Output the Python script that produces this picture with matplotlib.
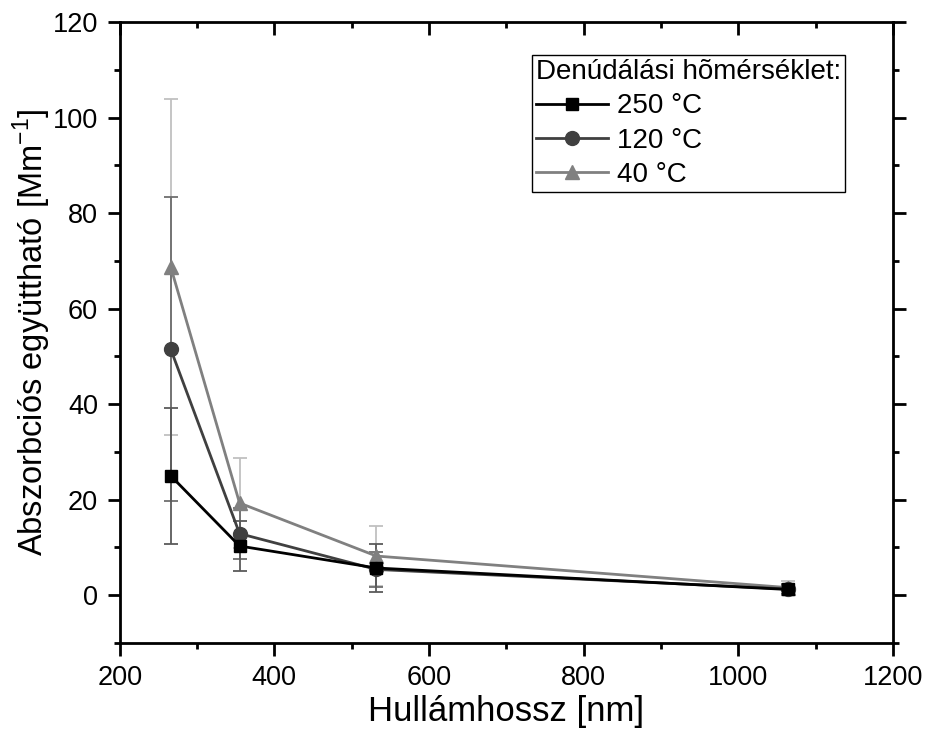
import numpy as np
import matplotlib
matplotlib.use('Agg')
import matplotlib.pyplot as plt
from matplotlib.lines import Line2D

plt.rcParams['font.family'] = ['Liberation Sans', 'DejaVu Sans']
plt.rcParams['mathtext.fontset'] = 'custom'
plt.rcParams['mathtext.rm'] = 'Liberation Sans'

# wavelengths [nm]
wavelength = [266, 355, 532, 1064]

# absorption coefficients [Mm-1] and their errors
abs_250 = [25.0, 10.3, 5.7, 1.2]
err_250 = [14.2, 5.3, 5.1, 0.9]
abs_120 = [51.5, 12.9, 5.4, 1.3]
err_120 = [31.8, 5.3, 3.7, 1.0]
abs_40 = [68.7, 19.3, 8.2, 1.6]
err_40 = [35.1, 9.4, 6.3, 1.3]

labels = ['250 °C', '120 °C', '40 °C']

fig = plt.figure(figsize=(9.28, 7.43), dpi=100)
ax = fig.add_axes([0.129, 0.1346, 0.8332, 0.8358])

# draw 40 first so that 250 ends up on top
ax.errorbar(wavelength, abs_40, yerr=err_40, color='#808080', ecolor='#c0c0c0',
            marker='^', markersize=10, lw=2, elinewidth=1.3, capsize=5, capthick=1.3)
ax.errorbar(wavelength, abs_120, yerr=err_120, color='#404040', ecolor='#6e6e6e',
            marker='o', markersize=10, lw=2, elinewidth=1.3, capsize=5, capthick=1.3)
ax.errorbar(wavelength, abs_250, yerr=err_250, color='black', ecolor='#5a5a5a',
            marker='s', markersize=9, lw=2, elinewidth=1.3, capsize=5, capthick=1.3)

ax.set_xlim(200, 1200)
ax.set_ylim(-10, 120)
ax.set_xticks(np.arange(200, 1201, 200))
ax.set_xticks(np.arange(300, 1200, 200), minor=True)
ax.set_yticks(np.arange(0, 121, 20))
ax.set_yticks(np.arange(-10, 120, 10), minor=True)

for s in ax.spines.values():
    s.set_linewidth(2)

ax.tick_params(which='both', labelsize=19.5, width=2, direction='out')
ax.tick_params(which='major', length=9, pad=6.5)
ax.tick_params(which='minor', length=4.5)
ax.tick_params(which='both', top=True, right=True)
# mirrored ticks point inward
for t in ax.xaxis.get_ticklines(minor=False)[1::2] + ax.xaxis.get_ticklines(minor=True)[1::2]:
    t.set_marker(3)
for t in ax.yaxis.get_ticklines(minor=False)[1::2] + ax.yaxis.get_ticklines(minor=True)[1::2]:
    t.set_marker(1)

ax.set_xlabel('Hullámhossz [nm]', fontsize=25, labelpad=3)
ax.set_ylabel('Abszorbciós együttható [Mm$^{-1}$]', fontsize=23.5, labelpad=0)

handles = [
    Line2D([], [], color='black', marker='s', markersize=9, lw=2),
    Line2D([], [], color='#404040', marker='o', markersize=10, lw=2),
    Line2D([], [], color='#808080', marker='^', markersize=10, lw=2),
]
leg = ax.legend(handles, labels, loc='upper left', bbox_to_anchor=(0.533, 0.947),
                title='Denúdálási hõmérséklet:', fontsize=20, title_fontsize=20,
                alignment='left', fancybox=False, edgecolor='black', framealpha=1,
                borderpad=0.15, labelspacing=0.3, handlelength=2.6, handletextpad=0.3,
                borderaxespad=0)
leg.get_frame().set_linewidth(1)

fig.savefig('out.png', dpi=100)
